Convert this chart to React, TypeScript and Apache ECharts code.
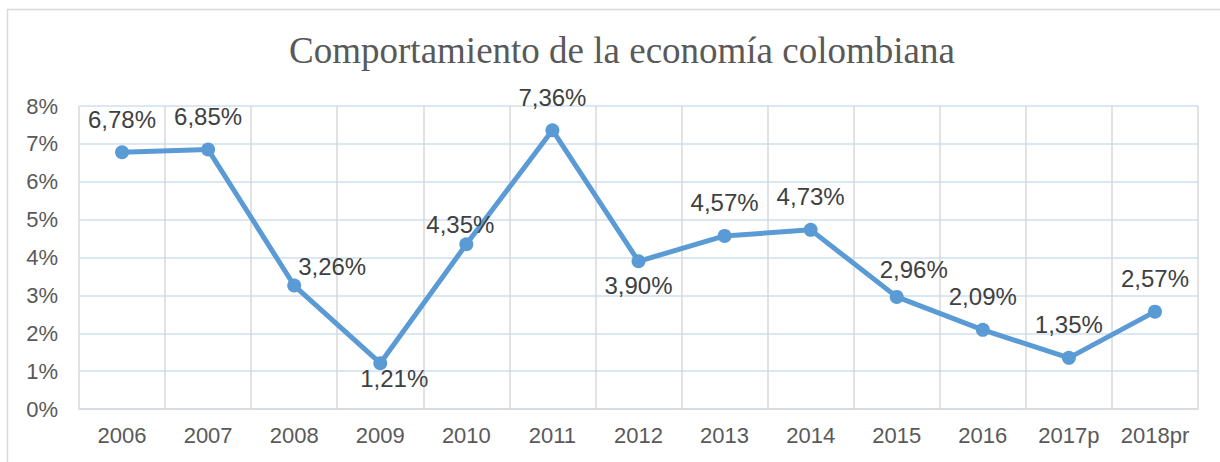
import React, { useEffect, useRef } from "react";
import * as echarts from "echarts";

const categories = ["2006", "2007", "2008", "2009", "2010", "2011", "2012", "2013", "2014", "2015", "2016", "2017p", "2018pr"];
const growth = [6.78, 6.85, 3.26, 1.21, 4.35, 7.36, 3.9, 4.57, 4.73, 2.96, 2.09, 1.35, 2.57];
const yTicks = [0, 1, 2, 3, 4, 5, 6, 7, 8];
const title = "Comportamiento de la economía colombiana";

const fmt = (v: number) => v.toFixed(2).replace(".", ",") + "%";

export default function App() {
  const ref = useRef<HTMLDivElement>(null);
  useEffect(() => {
    if (!ref.current) return;
    const chart = echarts.init(ref.current, undefined, { renderer: "svg" });
    const labelOffsets: Record<number, number[]> = {
      2: [38, 13.5],
      3: [14, 48.5],
      4: [-6, 13.5],
      6: [0, 57.5],
      9: [17, 5.5],
    };
    chart.setOption({
      animation: false,
      backgroundColor: "#ffffff",
      title: {
        text: title,
        left: 617,
        textAlign: "center",
        top: 27,
        textStyle: { fontFamily: "Liberation Serif", fontSize: 37, fontWeight: "normal", color: "#595959" },
      },
      graphic: [
        {
          type: "rect",
          shape: { x: 7.5, y: 9.5, width: 1230, height: 470 },
          style: { fill: "none", stroke: "#d9d9d9", lineWidth: 1.5 },
          silent: true,
        },
      ],
      grid: { left: 79, right: 22, top: 106, bottom: 53 },
      xAxis: {
        type: "category",
        data: categories,
        boundaryGap: true,
        axisTick: { show: false, interval: 0 },
        axisLine: { lineStyle: { color: "#d9d9d9", width: 1.5 } },
        splitLine: { show: true, interval: 0, lineStyle: { color: "#d9d9d9", width: 1.5 } },
        axisLabel: { interval: 0, color: "#595959", fontFamily: "Liberation Sans", fontSize: 22, margin: 15 },
      },
      yAxis: {
        type: "value",
        min: yTicks[0],
        max: yTicks[yTicks.length - 1],
        interval: 1,
        axisLine: { show: false },
        axisTick: { show: false },
        splitLine: { lineStyle: { color: "#cfe0f1", width: 1.5 } },
        axisLabel: { color: "#595959", fontFamily: "Liberation Sans", fontSize: 22, margin: 21, formatter: (v: number) => v + "%" },
      },
      series: [
        {
          type: "line",
          data: growth.map((v, i) => ({
            value: v,
            label: labelOffsets[i] ? { offset: labelOffsets[i] } : undefined,
          })),
          lineStyle: { color: "#5b9bd5", width: 5 },
          itemStyle: { color: "#5b9bd5" },
          symbol: "circle",
          symbolSize: 14,
          label: {
            show: true,
            position: "top",
            distance: 14,
            color: "#404040",
            fontFamily: "Liberation Sans",
            fontSize: 24,
            formatter: (p: any) => fmt(p.value),
          },
        },
      ],
    });
    return () => chart.dispose();
  }, []);
  return <div ref={ref} style={{ position: "fixed", left: 0, top: 0, width: 1220, height: 462 }} />;
}
